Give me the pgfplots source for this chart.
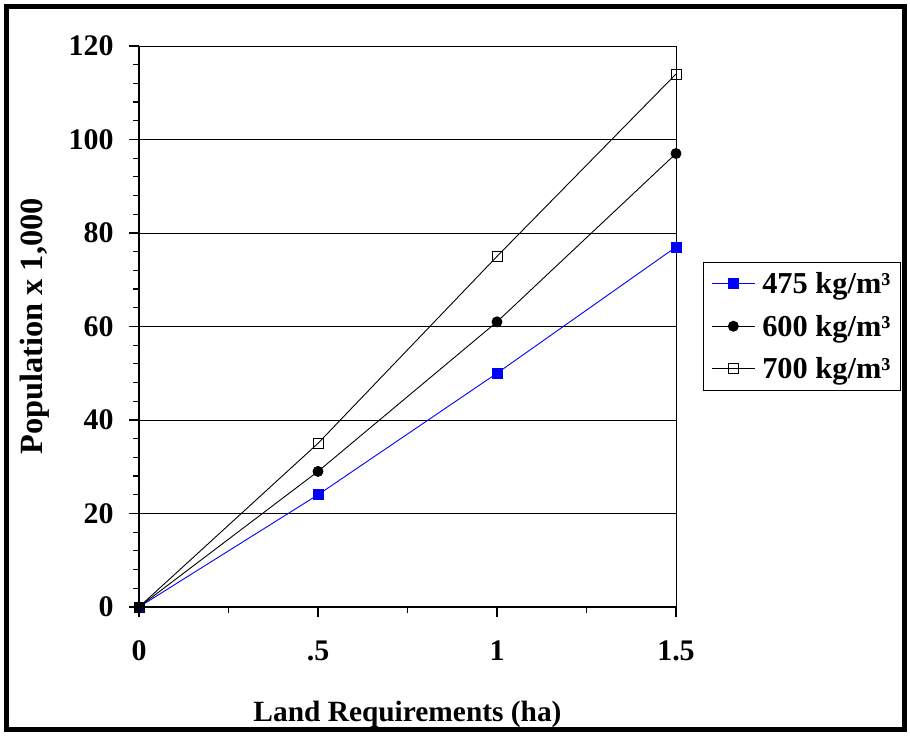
\documentclass[border=0pt]{standalone}
\usepackage{fontspec}
\setmainfont{Liberation Serif}
\usepackage{pgfplots}
\pgfplotsset{compat=1.18}
\begin{document}
\begin{tikzpicture}
% page frame, 1 px = 1 bp
\fill[white] (0,0) rectangle (910bp,736bp);
\draw[line width=5bp] (6.5bp,6.5bp) rectangle (904bp,729.5bp);
\begin{axis}[
  scale only axis,
  width=537bp, height=561bp,
  anchor=south west, at={(139bp,129bp)},
  xmin=0, xmax=1.5, ymin=0, ymax=120,
  xtick={0,0.5,1,1.5},
  xticklabels={0,.5,1,1.5},
  ytick={0,20,...,120},
  minor x tick num=1,
  minor y tick num=4,
  xtick pos=bottom, ytick pos=left,
  tick align=outside,
  major tick length=10bp, minor tick length=6bp,
  tick style={black, line width=1.2bp},
  ymajorgrids,
  major grid style={black, line width=0.6bp},
  axis line style={black, line width=0.8bp},
  ticklabel style={font=\fontsize{30}{34}\selectfont\bfseries},
  /pgf/number format/assume math mode=true,
  xticklabel style={yshift=-20bp},
  yticklabel style={xshift=-12bp},
  xlabel={Land Requirements (ha)},
  ylabel={Population x 1,000},
  xlabel style={yshift=-34bp, font=\fontsize{29.5}{34}\selectfont\bfseries},
  ylabel style={yshift=12bp, font=\fontsize{32.5}{36}\selectfont\bfseries},
  legend style={at={(1.0503,0.615)}, anchor=north west, draw=black,
    line width=0.8bp, font=\fontsize{30.5}{35}\selectfont\bfseries,
    row sep=16bp, inner xsep=8bp, inner ysep=8bp,
    /tikz/every odd column/.append style={column sep=5bp}},
  legend image code/.code={%
    \draw[mark repeat=2,mark phase=2] plot coordinates {(0bp,0bp) (21.5bp,0bp) (43bp,0bp)};},
  legend cell align=left,
  clip=false,
]
\addplot[blue, line width=0.9bp, mark=square*, mark size=5bp, mark options={fill=blue}]
  coordinates {(0,0) (0.5,24) (1,50) (1.5,77)};
\addlegendentry{475 kg/m³}
\addplot[black, line width=0.9bp, mark=*, mark size=5bp]
  coordinates {(0,0) (0.5,29) (1,61) (1.5,97)};
\addlegendentry{600 kg/m³}
\addplot[black, line width=0.9bp, mark=square, mark size=5bp, mark options={fill=white}]
  coordinates {(0,0) (0.5,35) (1,75) (1.5,114)};
\addlegendentry{700 kg/m³}
\draw[black, line width=2.2bp] (rel axis cs:0,1) -- (rel axis cs:0,0) -- (rel axis cs:1,0);
\end{axis}
\end{tikzpicture}
\end{document}
